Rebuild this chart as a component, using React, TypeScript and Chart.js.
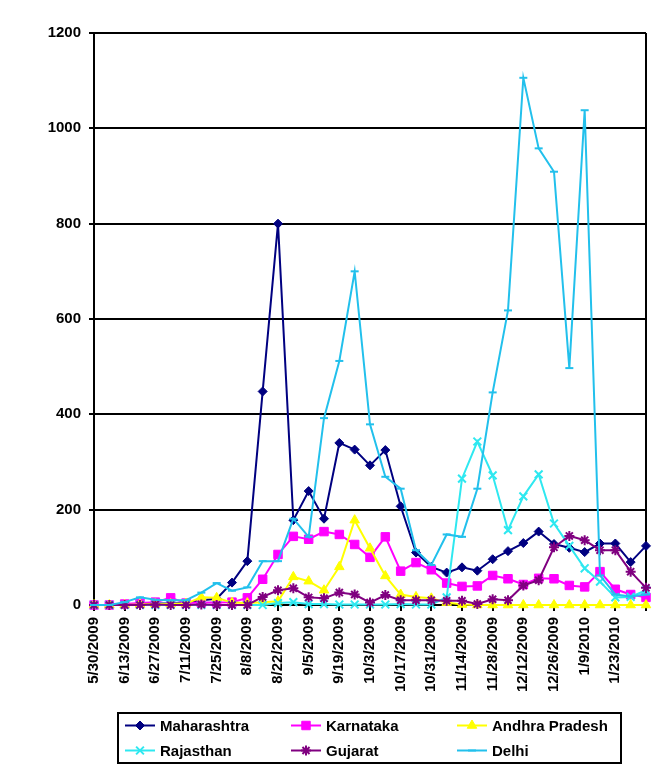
import { useEffect, useRef } from 'react'
import { Chart, registerables } from 'chart.js'
import { drawPoint } from 'chart.js/helpers'

Chart.register(...registerables)

// weekly categories, 5/30/2009 .. 2/6/2010
const weeks = [
  '5/30/2009', '6/6/2009', '6/13/2009', '6/20/2009', '6/27/2009', '7/4/2009', '7/11/2009', '7/18/2009',
  '7/25/2009', '8/1/2009', '8/8/2009', '8/15/2009', '8/22/2009', '8/29/2009', '9/5/2009', '9/12/2009',
  '9/19/2009', '9/26/2009', '10/3/2009', '10/10/2009', '10/17/2009', '10/24/2009', '10/31/2009', '11/7/2009',
  '11/14/2009', '11/21/2009', '11/28/2009', '12/5/2009', '12/12/2009', '12/19/2009', '12/26/2009', '1/2/2010',
  '1/9/2010', '1/16/2010', '1/23/2010', '1/30/2010', '2/6/2010',
]

const maharashtra = [0, 0, 1, 2, 3, 3, 4, 10, 13, 47, 92, 448, 800, 178, 239, 181, 340, 326, 293, 325, 207, 110, 80, 68, 79, 72, 96, 113, 130, 154, 128, 120, 111, 129, 129, 90, 124]
const karnataka = [0, 0, 2, 4, 6, 15, 4, 5, 5, 6, 15, 54, 106, 144, 138, 154, 148, 127, 100, 143, 71, 89, 74, 46, 39, 40, 62, 55, 43, 56, 55, 41, 38, 70, 33, 22, 16]
const andhraPradesh = [0, 0, 0, 1, 2, 2, 3, 16, 15, 5, 4, 6, 8, 59, 50, 31, 80, 178, 119, 61, 22, 17, 14, 5, 1, 0, 0, 0, 0, 0, 0, 0, 0, 0, 0, 0, 0]
const rajasthan = [0, 0, 0, 0, 0, 0, 0, 0, 0, 0, 0, 0, 4, 6, 2, 2, 1, 1, 1, 1, 2, 1, 1, 16, 265, 343, 272, 157, 228, 274, 171, 124, 77, 49, 16, 17, 31]
const gujarat = [0, 0, 0, 0, 1, 0, 0, 1, 0, 0, 0, 17, 31, 35, 16, 14, 26, 22, 5, 21, 10, 10, 10, 9, 9, 2, 12, 10, 41, 52, 121, 145, 136, 115, 115, 70, 36]
const delhi = [0, 0, 6, 16, 11, 10, 10, 26, 46, 30, 37, 92, 92, 181, 143, 392, 512, 700, 379, 269, 244, 115, 84, 148, 143, 244, 446, 618, 1106, 958, 909, 497, 1038, 62, 22, 18, 22]

const seriesNames = ['Maharashtra', 'Karnataka', 'Andhra Pradesh', 'Rajasthan', 'Gujarat', 'Delhi']
const seriesValues = [maharashtra, karnataka, andhraPradesh, rajasthan, gujarat, delhi]
const colors = ['#000080', '#FF00FF', '#FFFF00', '#2EE8F0', '#800080', '#22C0EC']
const markers = ['rectRot', 'rect', 'triangle', 'crossRot', 'star', 'line']
const markerSizes = [4.5, 6, 5.5, 5.5, 5, 4]

const FONT = '"Liberation Sans", Arial, sans-serif'

// legend drawn in a box with fixed columns, like the spreadsheet one
const boxLegend = {
  id: 'boxLegend',
  afterDraw(chart: any) {
    const { ctx } = chart
    const left = 118, top = 713, w = 503, h = 50
    ctx.save()
    ctx.strokeStyle = '#000'
    ctx.lineWidth = 2
    ctx.strokeRect(left, top, w, h)
    ctx.font = `bold 15px ${FONT}`
    ctx.textBaseline = 'middle'
    ctx.textAlign = 'left'
    chart.data.datasets.forEach((ds: any, i: number) => {
      const x = left + 7 + (i % 3) * 166
      const y = top + 12.5 + Math.floor(i / 3) * 25
      ctx.strokeStyle = ds.borderColor
      ctx.lineWidth = 2
      ctx.beginPath()
      ctx.moveTo(x, y)
      ctx.lineTo(x + 30, y)
      ctx.stroke()
      ctx.fillStyle = ds.pointBackgroundColor
      ctx.strokeStyle = ds.pointBorderColor
      ctx.lineWidth = ds.pointBorderWidth
      drawPoint(ctx, { pointStyle: ds.pointStyle, radius: ds.pointRadius, rotation: 0, borderWidth: ds.pointBorderWidth }, x + 15, y)
      ctx.fillStyle = '#000'
      ctx.fillText(ds.label, x + 35, y + 1)
    })
    ctx.restore()
  },
}

// right edge of the plot area
const plotFrame = {
  id: 'plotFrame',
  beforeDatasetsDraw(chart: any) {
    const { ctx, chartArea } = chart
    ctx.save()
    ctx.strokeStyle = '#000'
    ctx.lineWidth = 2
    ctx.beginPath()
    ctx.moveTo(chartArea.right, chartArea.top)
    ctx.lineTo(chartArea.right, chartArea.bottom)
    ctx.stroke()
    ctx.restore()
  },
}

export default function App() {
  const ref = useRef<HTMLCanvasElement>(null)

  useEffect(() => {
    if (!ref.current) return
    const chart = new Chart(ref.current, {
      type: 'line',
      data: {
        labels: weeks,
        datasets: seriesNames.map((name, i) => ({
          label: name,
          data: seriesValues[i],
          borderColor: colors[i],
          backgroundColor: colors[i],
          borderWidth: 2,
          tension: 0,
          pointStyle: markers[i] as any,
          pointRadius: markerSizes[i],
          pointBackgroundColor: colors[i],
          pointBorderColor: colors[i],
          pointBorderWidth: i >= 3 ? 2 : 1,
          clip: false as any,
          order: seriesNames.length - i,
        })),
      },
      options: {
        responsive: false,
        animation: false,
        layout: { padding: { top: 33, left: 0, right: 20, bottom: 64 } },
        plugins: { legend: { display: false }, tooltip: { enabled: false } },
        scales: {
          x: {
            afterFit: (s: any) => {
              s.height = 108
              s.paddingLeft = 0
              s.paddingRight = 0
            },
            grid: {
              drawOnChartArea: false,
              drawTicks: true,
              tickLength: 6,
              lineWidth: 2,
              color: (c: any) => (c.index % 2 === 0 ? '#000' : 'rgba(0,0,0,0)'),
            },
            border: { display: true, color: '#000', width: 2 },
            ticks: {
              autoSkip: false,
              minRotation: 90,
              maxRotation: 90,
              padding: 6,
              color: '#000',
              font: { family: FONT, size: 15, weight: 'bold' },
              callback: (_v: any, i: number) => (i % 2 === 0 && i < 35 ? weeks[i] : ''),
            },
          },
          y: {
            min: 0,
            max: 1200,
            afterFit: (s: any) => { s.width = 94 },
            grid: { color: '#000', lineWidth: 2, tickLength: 5 },
            border: { display: true, color: '#000', width: 2 },
            ticks: {
              stepSize: 200,
              padding: 8,
              color: '#000',
              font: { family: FONT, size: 15, weight: 'bold' },
              callback: (v: any) => String(v),
            },
          },
        },
      },
      plugins: [plotFrame, boxLegend],
    })
    return () => chart.destroy()
  }, [])

  return (
    <div style={{ position: 'absolute', left: 0, top: 0, width: 666, height: 777, background: '#fff' }}>
      <canvas ref={ref} width={666} height={777} />
    </div>
  )
}
